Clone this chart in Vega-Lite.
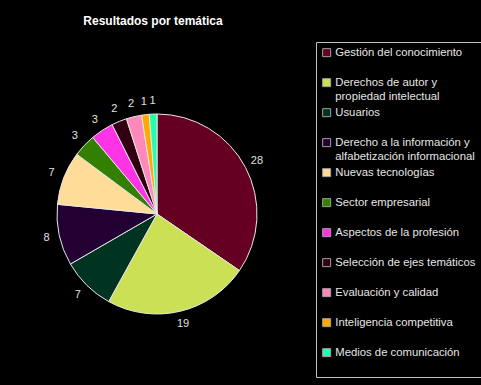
{
  "$schema": "https://vega.github.io/schema/vega-lite/v6.json",
  "autosize": {"type": "none"},
  "width": 200,
  "height": 200,
  "padding": {"left": 57, "top": 114, "right": 224, "bottom": 71},
  "background": "black",
  "view": {"stroke": null},
  "config": {"style": {"guide-label": {"lineHeight": 14}}},
  "title": {
    "text": "Resultados por temática",
    "font": "Liberation Sans",
    "fontSize": 12,
    "fontWeight": "bold",
    "color": "white",
    "anchor": "middle",
    "offset": 14,
    "dx": -4
  },
  "data": {
    "values": [
      {"tema": "Gestión del conocimiento", "n": 28, "i": 1},
      {"tema": "Derechos de autor y propiedad intelectual", "n": 19, "i": 2},
      {"tema": "Usuarios", "n": 7, "i": 3},
      {"tema": "Derecho a la información y alfabetización informacional", "n": 8, "i": 4},
      {"tema": "Nuevas tecnologías", "n": 7, "i": 5},
      {"tema": "Sector empresarial", "n": 3, "i": 6},
      {"tema": "Aspectos de la profesión", "n": 3, "i": 7},
      {"tema": "Selección de ejes temáticos", "n": 2, "i": 8},
      {"tema": "Evaluación y calidad", "n": 2, "i": 9},
      {"tema": "Inteligencia competitiva", "n": 1, "i": 10},
      {"tema": "Medios de comunicación", "n": 1, "i": 11}
    ]
  },
  "encoding": {
    "theta": {"field": "n", "type": "quantitative", "stack": true},
    "order": {"field": "i", "type": "quantitative"},
    "color": {
      "field": "tema",
      "type": "nominal",
      "sort": null,
      "scale": {
        "domain": ["Gestión del conocimiento", "Derechos de autor y propiedad intelectual", "Usuarios", "Derecho a la información y alfabetización informacional", "Nuevas tecnologías", "Sector empresarial", "Aspectos de la profesión", "Selección de ejes temáticos", "Evaluación y calidad", "Inteligencia competitiva", "Medios de comunicación"],
        "range": ["#660022", "#cce055", "#003322", "#220033", "#ffdd99", "#338000", "#ff33e6", "#330011", "#ff88bb", "#ffaa00", "#22ffaa"]
      },
      "legend": {
        "title": null,
        "orient": "none",
        "legendX": 259,
        "legendY": -72,
        "strokeColor": "#c0c0c0",
        "fillColor": "black",
        "padding": 5,
        "rowPadding": 4,
        "symbolType": "square",
        "symbolSize": 64,
        "symbolStrokeColor": "#a0a0a0",
        "symbolStrokeWidth": 1,
        "symbolOpacity": 1,
        "labelFont": "Liberation Sans",
        "labelFontSize": 11.3,
        "labelColor": "#e6e6e6",
        "labelLimit": 220,
        "labelOffset": 3,
        "labelBaseline": "middle",
        "labelExpr": "datum.label == 'Derechos de autor y propiedad intelectual' ? ['Derechos de autor y', 'propiedad intelectual'] : datum.label == 'Derecho a la información y alfabetización informacional' ? ['Derecho a la información y', 'alfabetización informacional'] : [datum.label, '']"
      }
    }
  },
  "layer": [
    {
      "mark": {"type": "arc", "outerRadius": 100, "stroke": "#e8e8e8", "strokeWidth": 1}
    },
    {
      "mark": {"type": "text", "radius": 113, "font": "Liberation Sans", "fontSize": 11, "fill": "#e0e0e0"},
      "encoding": {
        "text": {"field": "n", "type": "quantitative"},
        "color": {"value": "#e0e0e0"}
      }
    }
  ]
}
